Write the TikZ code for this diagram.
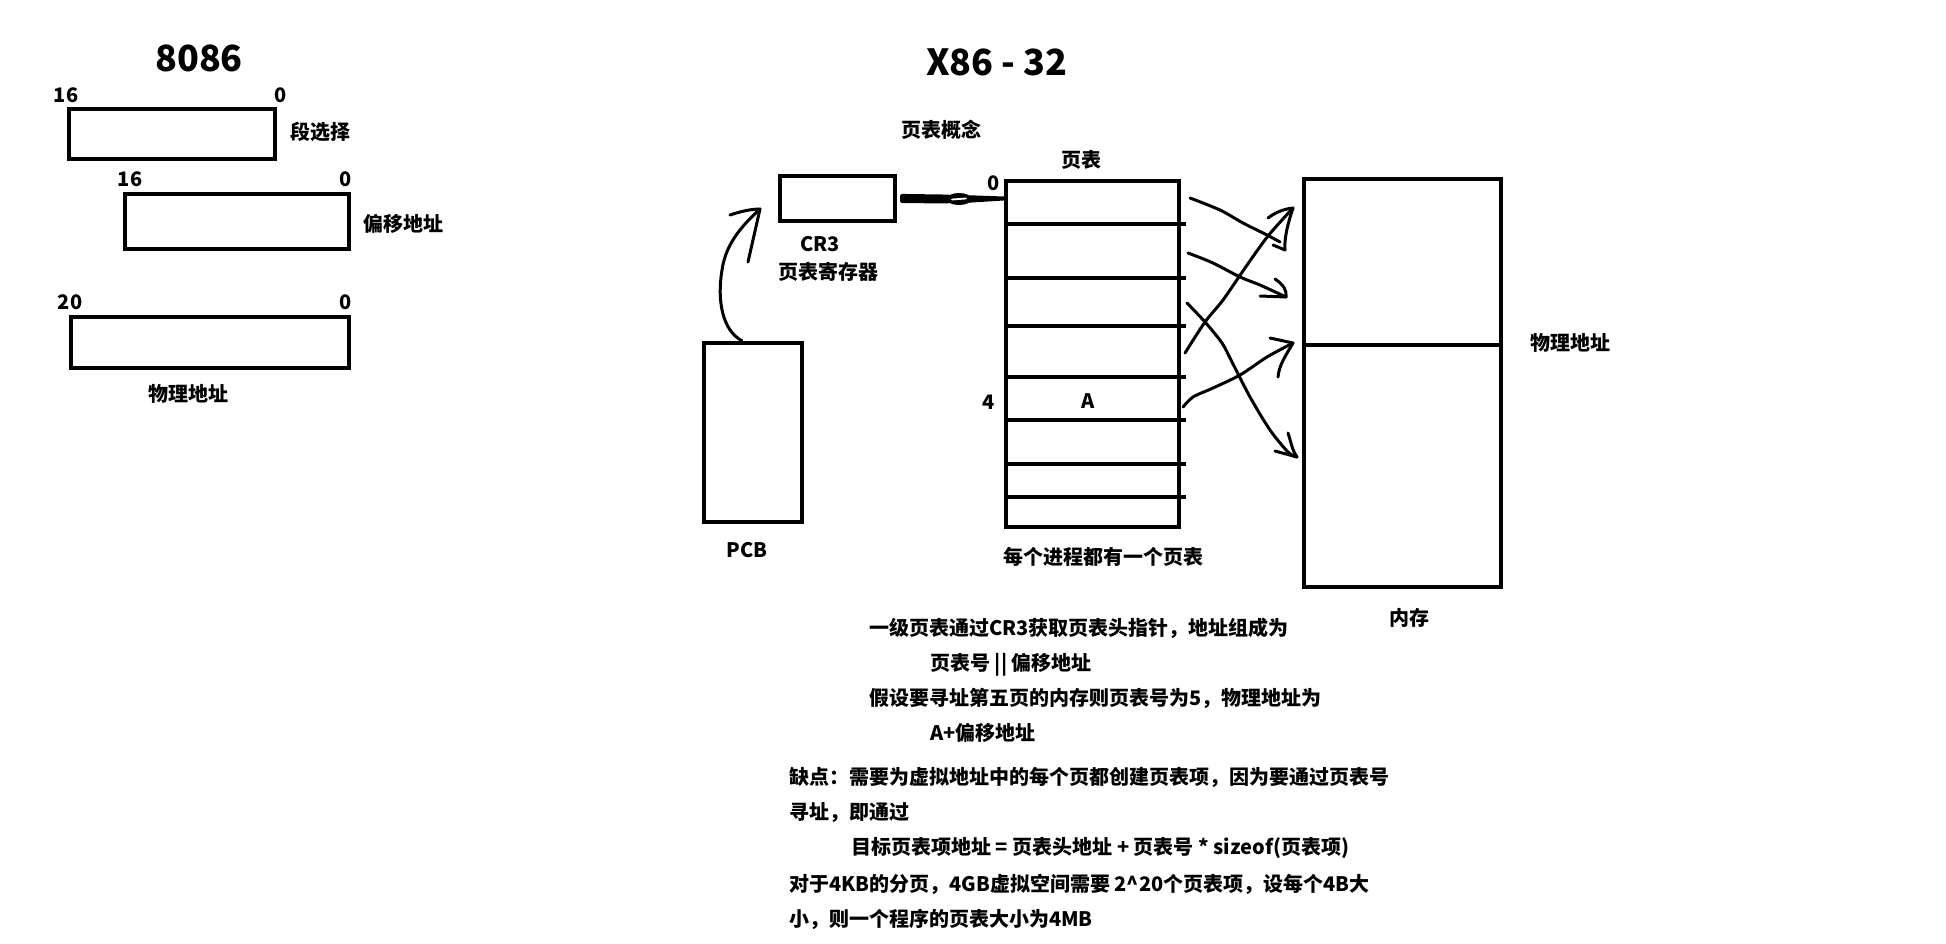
\documentclass[tikz,border=0pt]{standalone}
\usepackage{fontspec}
\setmainfont{Noto Sans CJK SC}
\usetikzlibrary{calc}
\begin{document}
\begin{tikzpicture}[x=1pt,y=-1pt,
  box/.style={draw, line width=3.8pt, inner sep=0pt},
  lbl/.style={font=\fontsize{20}{22}\selectfont\bfseries, inner sep=0pt, text height=17.6pt, text depth=2.4pt},
  ttl/.style={font=\fontsize{36}{38}\selectfont\bfseries, inner sep=0pt, text height=26.5pt, text depth=0pt},
  hand/.style={line width=3pt, line cap=round, line join=round}]
\useasboundingbox (0,0) rectangle (1946,943);
\fill[white] (0,0) rectangle (1946,943);

% ---------- 8086 ----------
\node[ttl] (t8086) at (199,58) {8086};
\node[box, minimum width=206.5pt, minimum height=50.5pt] (seg) at (172,134) {};
\node[box, minimum width=224.5pt, minimum height=55.5pt] (off) at (237,221.5) {};
\node[box, minimum width=278.5pt, minimum height=51.5pt] (phy) at (210,342.5) {};
\node[lbl] (s16) at (66,95) {16};
\node[lbl] (s0) at (281,95) {0};
\node[lbl] (o16) at (130,179) {16};
\node[lbl] (o0) at (346,179) {0};
\node[lbl] (p20) at (70,302) {20};
\node[lbl] (p0) at (346,302) {0};
\node[lbl, anchor=west] (segl) at (290,132) {段选择};
\node[lbl, anchor=west] (offl) at (363,224) {偏移地址};
\node[lbl] (phyl) at (188,394) {物理地址};

% ---------- X86-32 ----------
\node[ttl] (tx86) at (997,62) {X86 - 32};
\node[lbl] (concept) at (941,130) {页表概念};
\node[lbl] (ptl) at (1081,160) {页表};
\node[box, minimum width=115.5pt, minimum height=45.5pt] (cr3) at (837.5,198.5) {};
\node[lbl] (cr3l) at (820,244) {CR3};
\node[lbl] (cr3l2) at (828,272) {页表寄存器};
\node[box, minimum width=173.5pt, minimum height=346.5pt] (pt) at (1092.5,354) {};
\foreach \yy in {224,278,326,377,420,464,497}
  \draw[line width=3.8pt] (pt.north west |- 0,\yy) -- ++(182,0);
\node[lbl] (pt0) at (994,183) {0};
\node[lbl] (pt4) at (989,402) {4};
\node[lbl] (ptA) at (1088,401) {A};
\node[lbl] (ptnote) at (1103,557) {每个进程都有一个页表};
\node[box, minimum width=98.5pt, minimum height=179.5pt] (pcb) at (753,432.5) {};
\node[lbl] (pcbl) at (747,550) {PCB};
\node[box, minimum width=197.5pt, minimum height=408.5pt] (mem) at (1402.5,383) {};
\draw[line width=3.8pt] (mem.north west |- 0,345) -- (mem.north east |- 0,345);
\node[lbl, anchor=west] (meml) at (1530,343) {物理地址};
\node[lbl] (memn) at (1409,618) {内存};

% CR3 -> page table (thick hand-drawn arrow)
\coordinate (ptin) at (pt.west |- cr3.east);
\fill[rounded corners=1.5pt] ($(cr3.east)+(3,-4.6)$) -- (950,194.6) -- (950,203.4) -- ($(cr3.east)+(3,4.6)$) -- cycle;
\fill (959,199) ellipse [x radius=12.5pt, y radius=6pt];
\fill (967,195.2) -- ($(ptin)+(0,-2)$) -- ($(ptin)+(0,2)$) -- (967,202.8) -- cycle;
\draw[white, line width=1.8pt, line cap=round] (952,199.5) -- (966,198.5);

% PCB -> CR3 hand-drawn arrow
\coordinate (pcbout) at ($(pcb.north)+(-11,0)$);
\coordinate (cr3in) at (760,209);
\draw[hand] (pcbout) .. controls (722,330) and (717,300) .. (722,270)
  .. controls (726,242) and (744,224) .. (cr3in);
\draw[hand] (730,215) .. controls (742,211) and (752,209) .. (cr3in) -- (748,262);

% page table -> memory hand-drawn arrows
\coordinate (c1s) at (1190,198);
\coordinate (c2s) at (1188,253);
\coordinate (c3s) at (1187,303);
\coordinate (c4s) at (1183,407);
\coordinate (c5s) at (1185,353);
\coordinate (c1e) at (1280,242);
\coordinate (c2e) at (1286,297);
\coordinate (c3e) at (1297,457);
\coordinate (c4e) at (1293,343);
\coordinate (c5e) at (1293,208);
\draw[hand] plot[smooth] coordinates {(c1s) (1220,210) (1243,223) (1267,235) (c1e)};
\draw[hand] (1273,245) -- (1285,250);
\draw[hand] plot[smooth] coordinates {(c5s) (1205,322) (1223,300) (1245,268) (1268,236) (c5e)};
\draw[hand] (1268,218) .. controls (1276,212) and (1284,209) .. (c5e) .. controls (1288,223) and (1284,238) .. (1285,250);
\draw[hand] plot[smooth] coordinates {(c2s) (1213,263) (1240,277) (1260,285) (c2e)};
\draw[hand] (1275,279) .. controls (1284,285) and (1287,291) .. (c2e) -- (1260,296);
\draw[hand] plot[smooth] coordinates {(c3s) (1205,322) (1222,343) (1232,362) (1250,397) (1270,430) (1288,452) (c3e)};
\draw[hand] (1288,433) .. controls (1291,442) and (1292,450) .. (c3e) -- (1275,451);
\draw[hand] plot[smooth] coordinates {(c4s) (1193,397) (1213,388) (1240,375) (1267,357) (c4e)};
\draw[hand] (1270,338) -- (c4e) .. controls (1286,355) and (1279,365) .. (1278,377);

% ---------- text block ----------
\node[lbl, anchor=west] (tx1) at (869,628) {一级页表通过CR3获取页表头指针，地址组成为};
\node[lbl, anchor=west] (tx2) at (930,663) {页表号 || 偏移地址};
\node[lbl, anchor=west] (tx3) at (869,698) {假设要寻址第五页的内存则页表号为5，物理地址为};
\node[lbl, anchor=west] (tx4) at (930,733) {A+偏移地址};
\node[lbl, anchor=west] (tx5) at (789,777) {缺点：需要为虚拟地址中的每个页都创建页表项，因为要通过页表号};
\node[lbl, anchor=west] (tx6) at (789,812) {寻址，即通过};
\node[lbl, anchor=west] (tx7) at (851,847) {目标页表项地址 = 页表头地址 + 页表号 * sizeof(页表项)};
\node[lbl, anchor=west] (tx8) at (789,884) {对于4KB的分页，4GB虚拟空间需要 2\^{}20个页表项，设每个4B大};
\node[lbl, anchor=west] (tx9) at (789,919) {小，则一个程序的页表大小为4MB};
\end{tikzpicture}
\end{document}
